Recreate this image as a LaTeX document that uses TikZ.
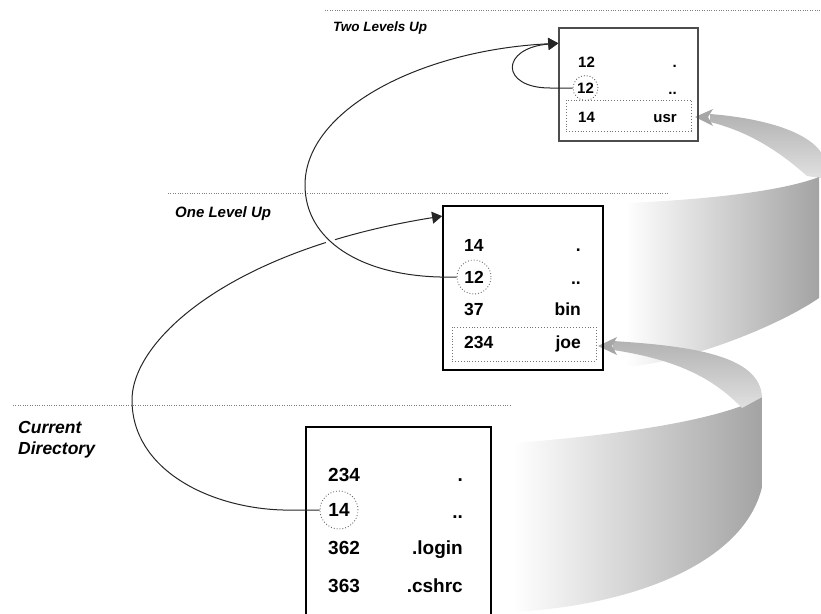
\documentclass[tikz,border=0pt]{standalone}
\usepackage{fontspec}
\setmainfont{Liberation Sans}
\usetikzlibrary{arrows.meta,intersections}

\begin{document}
\begin{tikzpicture}[x=1pt, y=-1pt,
    dirbox/.style={draw, line width=1.8pt},
    rowbox/.style={draw=black!55, dotted, line width=0.9pt},
    ring/.style={circle, draw=black!60, dotted, line width=0.9pt, inner sep=0pt},
    ino/.style={anchor=base west, inner sep=0pt},
    iname/.style={anchor=base east, inner sep=0pt},
    lvl/.style={anchor=base west, inner sep=0pt, font=\fontsize{#1}{#1}\selectfont\bfseries\itshape},
    levelline/.style={draw=black!50, line width=0.8pt, dash pattern=on 0.8pt off 1.6pt},
    link/.style={draw=black!85, line width=1pt, -{Triangle[length=10pt,width=12pt]}},
    bandshade/.style={left color=white, right color=black!36},
    tailshade/.style={top color=black!30, bottom color=black!12},
    headshade/.style={fill=black!35}]

    \useasboundingbox (0,0) rectangle (821,613);

    % level lines and labels
    \draw[levelline] (325,10) -- (821,10);
    \draw[levelline] (168,193) -- (668,193);
    \draw[levelline] (13,405) -- (512,405);

    \node[lvl=13.5] (twoLabel) at (333,31.5) {Two Levels Up};
    \node[lvl=15] (oneLabel) at (175,217) {One Level Up};
    \node[lvl=17.5] (curLabel) at (18,433) {Current};
    \node[lvl=17.5] (curLabelB) at (18,454) {Directory};

    % upper ribbon (to usr)
    \shade[tailshade] (710,114) .. controls (760,118) and (805,130) .. (821,152)
        -- (821,178) -- (807,176) .. controls (780,152) and (750,132) .. (710,122) -- cycle;
    \shade[bandshade] (625,203) .. controls (700,200) and (780,192) .. (819,177)
        -- (819,298) .. controls (780,325) and (690,362) .. (625,367) -- cycle;
    \fill[headshade] (695,117) -- (713,109) -- (708,117) -- (713,126) -- cycle;

    % lower ribbon (to joe)
    \shade[bandshade] (513,443) .. controls (620,435) and (720,420) .. (762,397)
        -- (762,487) .. controls (745,560) and (640,605) .. (513,612) -- cycle;
    \shade[tailshade] (613,341) .. controls (690,346) and (760,355) .. (762,397)
        -- (742,408) .. controls (715,380) and (680,360) .. (613,350) -- cycle;
    \fill[headshade] (598,346) -- (617,337) -- (612,346) -- (617,355) -- cycle;

    % directories
    \node[dirbox, draw=black!70, line width=1.4pt, minimum width=139pt, minimum height=113pt] (twoBox) at (628.5,84.5) {};
    \node[dirbox, minimum width=160pt, minimum height=164pt] (oneBox) at (523,288) {};
    \node[dirbox, line width=2.4pt, minimum width=185pt, minimum height=213pt] (curBox) at (398.5,533.5) {};

    \node[rowbox, minimum width=125pt, minimum height=31pt] (twoUsrRow) at (628.5,115.5) {};
    \node[rowbox, minimum width=144pt, minimum height=34pt] (oneJoeRow) at (524,344) {};

    \begin{scope}[font=\fontsize{15}{18}\selectfont\bfseries]
        \node[ino] (twoSelfNo) at (578,67) {12};
        \node[iname] (twoSelf) at (677,67) {.};
        \node[ring, minimum size=25pt] (twoParent) at (585.5,88) {12};
        \node[iname] (twoParentName) at (677,94) {..};
        \node[ino] (twoUsrNo) at (578,122) {14};
        \node[iname] (twoUsr) at (677,122) {usr};
    \end{scope}

    \begin{scope}[font=\fontsize{17.5}{20}\selectfont\bfseries]
        \node[ino] (oneSelfNo) at (464,251) {14};
        \node[iname] (oneSelf) at (581,251) {.};
        \node[ring, minimum size=34pt] (oneParent) at (474,277) {12};
        \node[iname] (oneParentName) at (581,284) {..};
        \node[ino] (oneBinNo) at (464,315) {37};
        \node[iname] (oneBin) at (581,315) {bin};
        \node[ino] (oneJoeNo) at (464,348) {234};
        \node[iname] (oneJoe) at (581,348) {joe};
    \end{scope}

    \begin{scope}[font=\fontsize{19}{22}\selectfont\bfseries]
        \node[ino] (curSelfNo) at (328,481) {234};
        \node[iname] (curSelf) at (463,481) {.};
        \node[ring, minimum size=38pt] (curParent) at (339,510) {14};
        \node[iname] (curParentName) at (463,518) {..};
        \node[ino] (curLoginNo) at (328,554) {362};
        \node[iname] (curLogin) at (463,554) {.login};
        \node[ino] (curCshrcNo) at (328,592) {363};
        \node[iname] (curCshrc) at (463,592) {.cshrc};
    \end{scope}

    % parent links
    \path[name path=upLink] (oneParent.west) -- (440,277)
        .. controls (360,275) and (305,240) .. (305,185)
        .. controls (305,110) and (420,50) .. ([yshift=-16pt]twoBox.north west);
    \draw[link, name path=downLink] (curParent.west) -- (283,510)
        .. controls (210,508) and (132,470) .. (132,400)
        .. controls (132,340) and (230,250) .. ([yshift=-11pt]oneBox.north west);
    \fill[white, name intersections={of=upLink and downLink, by=linkCross}] (linkCross) circle (5pt);
    \draw[link] (oneParent.west) -- (440,277)
        .. controls (360,275) and (305,240) .. (305,185)
        .. controls (305,110) and (420,50) .. ([yshift=-16pt]twoBox.north west);
    \draw[link] (twoParent.west) -- (550,88)
        .. controls (500,88) and (500,48) .. ([yshift=-16pt]twoBox.north west);
\end{tikzpicture}
\end{document}
